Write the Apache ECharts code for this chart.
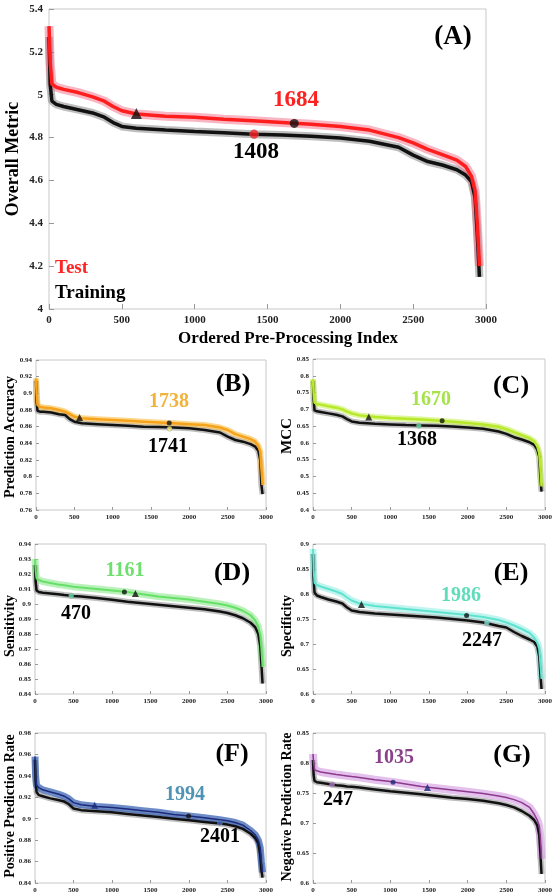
<!DOCTYPE html>
<html>
<head>
<meta charset="utf-8">
<script src="https://cdn.jsdelivr.net/npm/echarts@6/dist/echarts.min.js"></script>
<style>html,body{margin:0;padding:0;background:#fff}#c{width:556px;height:896px}</style>
</head>
<body>
<div id="c"></div>
<script>
// Ordered pre-processing index (shared x positions of read-off points)
const X = [0, 8, 20, 50, 100, 200, 300, 380, 440, 500, 600, 800, 1000, 1200, 1400, 1600, 1800, 2000, 2200, 2400, 2500, 2600, 2700, 2800, 2860, 2900, 2925, 2940, 2955];
const xTicks = [0, 500, 1000, 1500, 2000, 2500, 3000];

// (A) Overall Metric
const aTest  = [5.32, 5.15, 5.05, 5.035, 5.025, 5.01, 4.99, 4.97, 4.945, 4.925, 4.91, 4.90, 4.895, 4.885, 4.878, 4.870, 4.862, 4.852, 4.835, 4.80, 4.775, 4.745, 4.72, 4.695, 4.665, 4.62, 4.55, 4.40, 4.20];
const aTrain = [5.27, 5.05, 4.97, 4.955, 4.945, 4.93, 4.915, 4.895, 4.87, 4.852, 4.843, 4.835, 4.828, 4.822, 4.816, 4.812, 4.806, 4.798, 4.783, 4.755, 4.718, 4.688, 4.672, 4.65, 4.625, 4.595, 4.52, 4.35, 4.15];
const aTri = [600, 4.912], aTestBest = [1684, 4.866], aTrainBest = [1408, 4.816];

// (B) Prediction Accuracy
const bTest  = [0.918, 0.90, 0.886, 0.884, 0.883, 0.882, 0.880, 0.878, 0.875, 0.872, 0.870, 0.869, 0.868, 0.867, 0.866, 0.865, 0.864, 0.863, 0.862, 0.859, 0.856, 0.851, 0.848, 0.845, 0.842, 0.837, 0.83, 0.81, 0.79];
const bTrain = [0.915, 0.89, 0.879, 0.878, 0.878, 0.877, 0.875, 0.874, 0.869, 0.866, 0.864, 0.863, 0.862, 0.861, 0.860, 0.8595, 0.859, 0.858, 0.856, 0.853, 0.848, 0.844, 0.842, 0.839, 0.836, 0.831, 0.82, 0.79, 0.779];
const bTri = [568, 0.871], bTestBest = [1738, 0.8645], bTrainBest = [1741, 0.8575];

// (C) MCC
const cTest  = [0.79, 0.75, 0.72, 0.716, 0.714, 0.709, 0.705, 0.70, 0.693, 0.688, 0.682, 0.677, 0.674, 0.672, 0.670, 0.667, 0.663, 0.659, 0.655, 0.648, 0.641, 0.632, 0.623, 0.614, 0.605, 0.59, 0.57, 0.53, 0.47];
const cTrain = [0.785, 0.73, 0.697, 0.694, 0.692, 0.688, 0.684, 0.679, 0.671, 0.664, 0.660, 0.657, 0.655, 0.653, 0.652, 0.651, 0.649, 0.646, 0.642, 0.634, 0.627, 0.617, 0.610, 0.602, 0.594, 0.58, 0.56, 0.50, 0.455];
const cTri = [721, 0.677], cTestBest = [1670, 0.666], cTrainBest = [1368, 0.651];

// (D) Sensitivity
const dTest  = [0.930, 0.922, 0.917, 0.916, 0.915, 0.914, 0.913, 0.9125, 0.912, 0.9115, 0.911, 0.910, 0.909, 0.908, 0.9065, 0.905, 0.904, 0.903, 0.9015, 0.900, 0.899, 0.8975, 0.8955, 0.8925, 0.889, 0.885, 0.879, 0.87, 0.858];
const dTrain = [0.926, 0.915, 0.909, 0.908, 0.9075, 0.907, 0.9065, 0.906, 0.9057, 0.9053, 0.905, 0.904, 0.9028, 0.9015, 0.9005, 0.8995, 0.8985, 0.8975, 0.8965, 0.895, 0.894, 0.8925, 0.8905, 0.8875, 0.8845, 0.880, 0.872, 0.86, 0.847];
const dTri = [1304, 0.907], dTestBest = [1161, 0.908], dTrainBest = [470, 0.9055];

// (E) Specificity
const eTest  = [0.89, 0.85, 0.822, 0.818, 0.815, 0.81, 0.805, 0.80, 0.793, 0.787, 0.781, 0.776, 0.773, 0.770, 0.767, 0.764, 0.761, 0.758, 0.754, 0.748, 0.743, 0.737, 0.730, 0.722, 0.713, 0.703, 0.69, 0.66, 0.63];
const eTrain = [0.88, 0.83, 0.803, 0.797, 0.794, 0.789, 0.785, 0.781, 0.773, 0.767, 0.764, 0.761, 0.759, 0.757, 0.755, 0.753, 0.750, 0.747, 0.743, 0.736, 0.733, 0.724, 0.716, 0.709, 0.704, 0.695, 0.675, 0.64, 0.61];
const eTri = [626, 0.779], eTestBest = [1986, 0.757], eTrainBest = [2247, 0.742];

// (F) Positive Prediction Rate
const fTest  = [0.958, 0.94, 0.931, 0.929, 0.927, 0.925, 0.923, 0.921, 0.9185, 0.915, 0.913, 0.9115, 0.9105, 0.909, 0.9075, 0.906, 0.904, 0.9025, 0.901, 0.899, 0.898, 0.8965, 0.894, 0.889, 0.885, 0.88, 0.873, 0.86, 0.85];
const fTrain = [0.955, 0.935, 0.925, 0.922, 0.921, 0.919, 0.9175, 0.916, 0.9135, 0.9095, 0.908, 0.907, 0.906, 0.9045, 0.903, 0.9015, 0.900, 0.8985, 0.897, 0.8955, 0.8945, 0.893, 0.8905, 0.886, 0.882, 0.877, 0.866, 0.852, 0.845];
const fTri = [774, 0.9125], fTestBest = [1994, 0.9025], fTrainBest = [2401, 0.896];

// (G) Negative Prediction Rate
const gTest  = [0.815, 0.80, 0.789, 0.787, 0.785, 0.783, 0.781, 0.7795, 0.7785, 0.7775, 0.776, 0.772, 0.769, 0.765, 0.761, 0.758, 0.755, 0.752, 0.749, 0.745, 0.7425, 0.739, 0.734, 0.726, 0.715, 0.705, 0.695, 0.675, 0.64];
const gTrain = [0.805, 0.78, 0.770, 0.768, 0.767, 0.765, 0.763, 0.762, 0.761, 0.7605, 0.759, 0.756, 0.753, 0.7505, 0.748, 0.745, 0.742, 0.740, 0.737, 0.733, 0.730, 0.726, 0.720, 0.712, 0.705, 0.696, 0.68, 0.65, 0.615];
const gTri = [1480, 0.759], gTestBest = [1035, 0.768], gTrainBest = [247, 0.764];

const SERIF = '"Liberation Serif","DejaVu Serif",serif';
const zip = ys => X.map((x, i) => [x, ys[i]]);

const panels = [
  {k:'A', grid:{left:49, top:9, width:437, height:300}, min:4, max:5.4, iv:0.2, test:aTest, train:aTrain, tri:aTri, tb:aTestBest, rb:aTrainBest,
   line:'#ff1e1e', band:'rgba(240,90,120,0.45)', tBand:9, tLine:3.5, rLine:3.5, rBand:8, fs:11, ms:9, tbCol:'#111', rbCol:'#ff2020', triCol:'#111'},
  {k:'B', grid:{left:36, top:360, width:230, height:150}, min:0.76, max:0.94, iv:0.02, test:bTest, train:bTrain, tri:bTri, tb:bTestBest, rb:bTrainBest,
   line:'#f7a21b', band:'rgba(250,190,70,0.6)', tBand:6, tLine:2.5, rLine:2.5, rBand:6, fs:7, ms:5, tbCol:'#111', rbCol:'#f4f07a', triCol:'#111'},
  {k:'C', grid:{left:313, top:359, width:232, height:151}, min:0.4, max:0.85, iv:0.05, test:cTest, train:cTrain, tri:cTri, tb:cTestBest, rb:cTrainBest,
   line:'#b8e82a', band:'rgba(200,240,90,0.6)', tBand:6, tLine:2.5, rLine:2.5, rBand:6, fs:7, ms:5, tbCol:'#111', rbCol:'#5fe0a0', triCol:'#111'},
  {k:'D', grid:{left:35, top:544, width:231, height:150}, min:0.84, max:0.94, iv:0.01, test:dTest, train:dTrain, tri:dTri, tb:dTestBest, rb:dTrainBest,
   line:'#66e066', band:'rgba(130,230,130,0.55)', tBand:7, tLine:2, rLine:2.5, rBand:6, fs:7, ms:5, tbCol:'#111', rbCol:'#5fe8b0', triCol:'#111'},
  {k:'E', grid:{left:313, top:544, width:232, height:150}, min:0.6, max:0.9, iv:0.05, test:eTest, train:eTrain, tri:eTri, tb:eTestBest, rb:eTrainBest,
   line:'#5fe3cf', band:'rgba(140,235,225,0.55)', tBand:7, tLine:2, rLine:2.5, rBand:6, fs:7, ms:5, tbCol:'#111', rbCol:'#6fe6d6', triCol:'#111'},
  {k:'F', grid:{left:35, top:733, width:231, height:150}, min:0.84, max:0.98, iv:0.02, test:fTest, train:fTrain, tri:fTri, tb:fTestBest, rb:fTrainBest,
   line:'#1c2a7a', band:'rgba(60,100,180,0.75)', tBand:7, tLine:1.5, rLine:2.5, rBand:6, fs:7, ms:5, tbCol:'#111', rbCol:'#3f66c0', triCol:'#1c2a7a'},
  {k:'G', grid:{left:313, top:733, width:232, height:150}, min:0.6, max:0.85, iv:0.05, test:gTest, train:gTrain, tri:gTri, tb:gTestBest, rb:gTrainBest,
   line:'#8c3a8c', band:'rgba(210,150,225,0.6)', tBand:8, tLine:1.5, rLine:2.5, rBand:6, fs:7, ms:5, tbCol:'#1c2a7a', rbCol:'#b070c8', triCol:'#1c2a7a'}
];

const grid = [], xAxis = [], yAxis = [], series = [];
panels.forEach((p, i) => {
  grid.push(Object.assign({show:true, borderColor:'#c8c8c8', borderWidth:1, backgroundColor:'#fff'}, p.grid));
  const lab = {fontFamily:SERIF, fontWeight:'bold', fontSize:p.fs, color:'#222', margin: p.fs > 8 ? 6 : 4};
  xAxis.push({type:'value', gridIndex:i, min:xTicks[0], max:xTicks[xTicks.length - 1], interval:xTicks[1] - xTicks[0],
    axisLine:{show:false}, axisTick:{inside:true, length: p.fs > 8 ? 5 : 3, lineStyle:{color:'#999'}},
    splitLine:{show:false}, axisLabel:Object.assign({formatter: v => String(v)}, lab)});
  yAxis.push({type:'value', gridIndex:i, min:p.min, max:p.max, interval:p.iv,
    axisLine:{show:false}, axisTick:{show:true, inside:true, length: p.fs > 8 ? 5 : 3, lineStyle:{color:'#999'}},
    splitLine:{show:false}, axisLabel:lab});
  const base = {type:'line', xAxisIndex:i, yAxisIndex:i, showSymbol:false, symbol:'none', silent:true, animation:false};
  series.push(Object.assign({}, base, {data:zip(p.train), lineStyle:{color:'rgba(110,110,110,0.45)', width:p.rBand}, z:1}));
  series.push(Object.assign({}, base, {data:zip(p.test), lineStyle:{color:p.band, width:p.tBand}, z:2}));
  series.push(Object.assign({}, base, {data:zip(p.train), lineStyle:{color:'#111', width:p.rLine}, z:3}));
  series.push(Object.assign({}, base, {data:zip(p.test), lineStyle:{color:p.line, width:p.tLine}, z:4}));
  series.push({type:'scatter', xAxisIndex:i, yAxisIndex:i, z:6, animation:false, symbol:'triangle', symbolSize:p.ms+2,
    itemStyle:{color:p.triCol}, data:[p.tri]});
  series.push({type:'scatter', xAxisIndex:i, yAxisIndex:i, z:6, animation:false, symbol:'circle', symbolSize:p.ms,
    itemStyle:{color:p.tbCol}, data:[p.tb]});
  series.push({type:'scatter', xAxisIndex:i, yAxisIndex:i, z:6, animation:false, symbol:'circle', symbolSize:p.ms,
    itemStyle:{color:p.rbCol, borderColor:'#888', borderWidth:0.5}, data:[p.rb]});
});

function txt(text, x, y, size, color, rot, align) {
  return {type:'text', x:x, y:y, rotation:rot || 0, z:100,
    style:{text:text, fill:color || '#000', font:'bold ' + size + 'px ' + SERIF,
      textAlign:align || 'center', textVerticalAlign:'middle', verticalAlign:'middle'}};
}
const R = Math.PI / 2;
const graphic = [
  txt('(A)', 453, 37, 27), txt(String(aTestBest[0]), 296, 100, 23, '#ff2020'), txt(String(aTrainBest[0]), 256, 152, 23),
  txt('Test', 55, 268, 19, '#ff2424', 0, 'left'), txt('Training', 55, 293, 19, '#000', 0, 'left'),
  txt('Overall Metric', 13, 159, 18, '#000', R), txt('Ordered Pre-Processing Index', 288, 339, 17),
  txt('(B)', 233, 384, 26), txt(String(bTestBest[0]), 169, 402, 20, '#f2b33d'), txt(String(bTrainBest[0]), 168, 447, 20),
  txt('Prediction Accuracy', 10, 437, 14, '#000', R),
  txt('(C)', 511, 386, 26), txt(String(cTestBest[0]), 431, 400, 20, '#a6e34a'), txt(String(cTrainBest[0]), 417, 440, 20),
  txt('MCC', 287, 436, 15, '#000', R),
  txt('(D)', 232, 573, 26), txt(String(dTestBest[0]), 125, 571, 20, '#6fe06f'), txt(String(dTrainBest[0]), 76, 614, 20),
  txt('Sensitivity', 10, 626, 14, '#000', R),
  txt('(E)', 511, 573, 26), txt(String(eTestBest[0]), 461, 596, 20, '#5fdcb9'), txt(String(eTrainBest[0]), 482, 641, 20),
  txt('Specificity', 287, 626, 14, '#000', R),
  txt('(F)', 232, 754, 26), txt(String(fTestBest[0]), 185, 795, 20, '#4f93b5'), txt(String(fTrainBest[0]), 220, 837, 20),
  txt('Positive Prediction Rate', 10, 806, 14, '#000', R),
  txt('(G)', 512, 755, 26), txt(String(gTestBest[0]), 394, 758, 20, '#8b408b'), txt(String(gTrainBest[0]), 338, 800, 20),
  txt('Negative Prediction Rate', 287, 807, 14, '#000', R)
];

const chart = echarts.init(document.getElementById('c'), null, {renderer:'canvas'});
chart.setOption({animation:false, backgroundColor:'#fff', grid, xAxis, yAxis, series, graphic});
</script>
</body>
</html>
